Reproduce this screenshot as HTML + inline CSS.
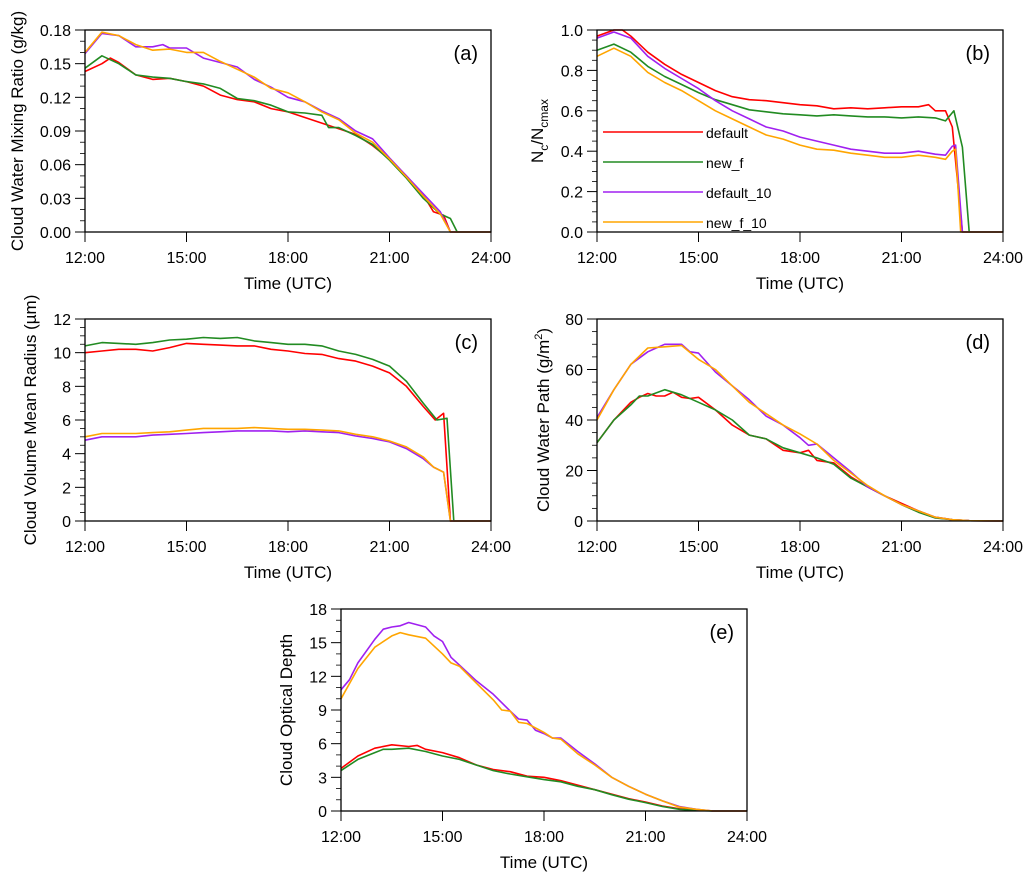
<!DOCTYPE html>
<html><head><meta charset="utf-8">
<style>
body{margin:0;background:#fff;}
svg{display:block;font-family:"Liberation Sans",sans-serif;}
</style></head>
<body>
<svg id="fig" width="1031" height="881" viewBox="0 0 1031 881" xmlns="http://www.w3.org/2000/svg"></svg>
<script>
// Panel (a) data
const aRedT=[12,12.5,12.75,13,13.5,14,14.5,15,15.5,16,16.5,17,17.5,18,18.5,19,19.5,20,20.5,21,21.5,22,22.3,22.6,22.8,24];
const aRedV=[0.143,0.150,0.155,0.151,0.140,0.136,0.137,0.134,0.130,0.122,0.118,0.116,0.110,0.107,0.102,0.097,0.092,0.087,0.077,0.065,0.050,0.033,0.018,0.015,0,0];
const aGreenT=[12,12.5,13,13.5,14,14.5,15,15.5,16,16.5,17,17.5,18,18.5,19,19.2,19.5,20,20.5,21,21.5,22,22.5,22.8,23,24];
const aGreenV=[0.146,0.157,0.150,0.140,0.138,0.137,0.134,0.132,0.128,0.119,0.117,0.113,0.107,0.106,0.104,0.093,0.093,0.086,0.078,0.064,0.048,0.030,0.016,0.012,0,0];
const aPurpleT=[12,12.5,13,13.5,14,14.3,14.5,15,15.5,16,16.5,17,17.5,18,18.5,19,19.5,20,20.5,21,21.5,22,22.5,22.8,24];
const aPurpleV=[0.159,0.177,0.175,0.165,0.165,0.167,0.164,0.164,0.155,0.151,0.147,0.136,0.129,0.120,0.116,0.108,0.101,0.090,0.083,0.066,0.050,0.034,0.018,0,0];
const aOrangeT=[12,12.5,13,13.5,14,14.5,15,15.5,16,16.5,17,17.5,18,18.5,19,19.5,20,20.5,21,21.5,22,22.5,22.8,24];
const aOrangeV=[0.160,0.178,0.175,0.167,0.162,0.163,0.160,0.160,0.152,0.145,0.138,0.128,0.124,0.116,0.107,0.100,0.088,0.080,0.065,0.049,0.032,0.016,0,0];
// Panel (b) data
const bRedT=[12,12.5,12.75,13,13.5,14,14.5,15,15.5,16,16.5,17,17.5,18,18.5,19,19.5,20,20.5,21,21.5,21.8,22,22.3,22.5,22.8,24];
const bRedV=[0.97,1.0,1.0,0.97,0.89,0.83,0.78,0.74,0.70,0.67,0.655,0.65,0.64,0.63,0.625,0.61,0.615,0.61,0.615,0.62,0.62,0.63,0.60,0.60,0.52,0,0];
const bGreenT=[12,12.5,13,13.5,14,14.5,15,15.5,16,16.5,17,17.5,18,18.5,19,19.5,20,20.5,21,21.5,22,22.3,22.55,22.8,23,24];
const bGreenV=[0.90,0.93,0.89,0.82,0.77,0.73,0.69,0.655,0.63,0.605,0.595,0.585,0.58,0.575,0.58,0.575,0.57,0.57,0.565,0.57,0.565,0.55,0.60,0.42,0,0];
const bPurpleT=[12,12.5,13,13.5,14,14.5,15,15.5,16,16.5,17,17.5,18,18.5,19,19.5,20,20.5,21,21.5,22,22.3,22.5,22.6,22.8,24];
const bPurpleV=[0.96,0.99,0.96,0.87,0.81,0.76,0.71,0.65,0.60,0.56,0.52,0.50,0.47,0.45,0.43,0.41,0.40,0.39,0.39,0.40,0.385,0.38,0.425,0.43,0,0];
const bOrangeT=[12,12.5,13,13.5,14,14.5,15,15.5,16,16.5,17,17.5,18,18.5,19,19.5,20,20.5,21,21.5,22,22.3,22.5,22.6,22.75,24];
const bOrangeV=[0.87,0.91,0.87,0.79,0.74,0.70,0.65,0.60,0.56,0.52,0.48,0.46,0.43,0.41,0.405,0.39,0.38,0.37,0.37,0.38,0.37,0.36,0.40,0.41,0,0];
// Panel (c) data
const cRedT=[12,12.5,13,13.5,14,14.5,15,15.5,16,16.5,17,17.5,18,18.5,19,19.5,20,20.5,21,21.5,22,22.35,22.6,22.8,24];
const cRedV=[10.0,10.1,10.2,10.2,10.1,10.3,10.55,10.5,10.45,10.4,10.4,10.2,10.1,9.95,9.9,9.65,9.5,9.2,8.8,8.0,6.8,6.0,6.4,0,0];
const cGreenT=[12,12.5,13,13.5,14,14.5,15,15.5,16,16.5,17,17.5,18,18.5,19,19.5,20,20.5,21,21.5,22,22.4,22.7,22.9,24];
const cGreenV=[10.4,10.6,10.55,10.5,10.6,10.75,10.8,10.9,10.85,10.9,10.7,10.6,10.5,10.5,10.4,10.1,9.9,9.6,9.2,8.3,7.0,6.0,6.1,0,0];
const cPurpleT=[12,12.5,13,13.5,14,14.5,15,15.5,16,16.5,17,17.5,18,18.5,19,19.5,20,20.5,21,21.5,22,22.3,22.6,22.8,24];
const cPurpleV=[4.8,5.0,5.0,5.0,5.1,5.15,5.2,5.25,5.3,5.35,5.35,5.35,5.3,5.35,5.3,5.25,5.05,4.9,4.7,4.3,3.7,3.2,2.9,0,0];
const cOrangeT=[12,12.5,13,13.5,14,14.5,15,15.5,16,16.5,17,17.5,18,18.5,19,19.5,20,20.5,21,21.5,22,22.3,22.6,22.8,24];
const cOrangeV=[5.0,5.2,5.2,5.2,5.25,5.3,5.4,5.5,5.5,5.5,5.55,5.5,5.45,5.45,5.4,5.35,5.15,5.0,4.75,4.4,3.8,3.2,2.9,0,0];
// Panel (d) data
const dRedT=[12,12.5,13,13.25,13.5,13.75,14,14.25,14.5,14.75,15,15.5,16,16.5,17,17.5,18,18.25,18.5,19,19.5,20,20.5,21,21.5,22,22.5,23,24];
const dRedV=[31,40,47,49,50.5,49.5,49.5,51,49,48.5,49,44,38,34,32.5,28,27,28,24,23,17.5,13.5,10,7,4,1.5,0.5,0.1,0];
const dGreenT=[12,12.5,13,13.25,13.5,14,14.5,15,15.5,16,16.5,17,17.5,18,18.5,19,19.5,20,20.5,21,21.5,22,22.5,23,24];
const dGreenV=[31,40,46,49.5,49.5,52,50,47,44,40,34,32.5,29,27,25,22.5,17,13.5,10,6.5,3.5,1.2,0.5,0.1,0];
const dPurpleT=[12,12.5,13,13.5,13.75,14,14.5,14.75,15,15.5,16,16.5,17,17.5,18,18.25,18.5,19,19.5,20,20.5,21,21.5,22,22.5,23,24];
const dPurpleV=[41,52,62,67,68.5,70,70,67,66.5,59,53.5,48,41.5,38,33,30,30.5,25,19.5,13.5,10,6.5,4,1.5,0.5,0.1,0];
const dOrangeT=[12,12.5,13,13.5,14,14.5,15,15.5,16,16.5,17,17.5,18,18.5,19,19.5,20,20.5,21,21.5,22,22.5,23,24];
const dOrangeV=[40,52,62,68.5,69,69.5,64,60,53.5,47,42.5,38,34.5,30.5,24,19,14,10,6.5,4,1.5,0.5,0.1,0];
// Panel (e) data
const eRedT=[12,12.5,13,13.5,14,14.25,14.5,15,15.5,16,16.5,17,17.5,18,18.5,19,19.5,20,20.5,21,21.5,22,22.5,23,24];
const eRedV=[3.8,4.9,5.6,5.9,5.75,5.85,5.5,5.2,4.75,4.1,3.7,3.5,3.1,3.0,2.7,2.3,1.9,1.5,1.1,0.8,0.45,0.2,0.1,0,0];
const eGreenT=[12,12.5,13,13.25,13.5,14,14.5,15,15.5,16,16.5,17,17.5,18,18.5,19,19.5,20,20.5,21,21.5,22,22.5,23,24];
const eGreenV=[3.6,4.6,5.2,5.5,5.5,5.6,5.3,4.9,4.6,4.1,3.6,3.3,3.05,2.8,2.6,2.2,1.9,1.45,1.05,0.75,0.4,0.15,0.05,0,0];
const ePurpleT=[12,12.25,12.5,13,13.25,13.5,13.75,14,14.5,14.75,15,15.25,15.5,16,16.5,17,17.25,17.5,17.75,18,18.25,18.5,19,19.5,20,20.5,21,21.5,22,22.5,23,24];
const ePurpleV=[10.8,11.7,13.2,15.3,16.2,16.4,16.5,16.8,16.4,15.6,15.1,13.7,13.0,11.6,10.4,8.9,8.2,8.1,7.2,6.9,6.5,6.5,5.3,4.2,3.0,2.2,1.5,0.9,0.4,0.15,0,0];
const eOrangeT=[12,12.5,13,13.5,13.75,14,14.5,15,15.25,15.5,16,16.5,16.75,17,17.25,17.5,18,18.25,18.5,19,19.5,20,20.5,21,21.5,22,22.5,23,24];
const eOrangeV=[10.0,12.7,14.6,15.6,15.9,15.7,15.4,14.0,13.2,12.9,11.4,9.9,9.0,8.9,7.9,7.8,7.0,6.5,6.4,5.1,4.1,3.0,2.2,1.5,0.9,0.35,0.15,0,0];

const xTickVals=[12,15,18,21,24];
const xTickLabels=["12:00","15:00","18:00","21:00","24:00"];
const legendLabels=["default","new_f","default_10","new_f_10"];
const COLORS={red:"#ff0000",green:"#228b22",purple:"#a020f0",orange:"#ffa500"};

const NS="http://www.w3.org/2000/svg";
const svg=document.getElementById('fig');
function mk(tag,attrs,parent){const e=document.createElementNS(NS,tag);for(const k in attrs)e.setAttribute(k,attrs[k]);(parent||svg).appendChild(e);return e;}

function panel(cfg){
  const g=mk('g',{});
  
  
  const {L,R,T,B,ymin,ymax}=cfg;
  const xs=t=>L+(t-12)/12*(R-L);
  const ys=v=>B-(v-ymin)/(ymax-ymin)*(B-T);
  cfg.series.forEach(s=>{
    const d=s.t.map((t,i)=>(i?'L':'M')+xs(t).toFixed(1)+','+ys(s.v[i]).toFixed(1)).join('');
    const p=mk('path',{d:d,fill:'none',stroke:COLORS[s.c],'stroke-width':1.6,'stroke-linejoin':'round'},g);
    
    
  });
  const f=mk('rect',{x:L,y:T,width:R-L,height:B-T,fill:'none',stroke:'#000','stroke-width':1.3},g);
  
  
  const nMaj=Math.round((ymax-ymin)/cfg.ystep);
  for(let i=0;i<=nMaj;i++){
    const v=ymin+i*cfg.ystep,y=ys(v);
    mk('line',{x1:L-10,y1:y,x2:L,y2:y,stroke:'#000','stroke-width':1},g);
    const tx=mk('text',{x:L-14,y:y+6,'font-size':16,'text-anchor':'end'},g);
    tx.textContent=v.toFixed(cfg.dec);
    
    
    if(i<nMaj){for(let m=1;m<cfg.minor;m++){const ym=ys(v+m*cfg.ystep/cfg.minor);mk('line',{x1:L-5,y1:ym,x2:L,y2:ym,stroke:'#000','stroke-width':0.8},g);}}
  }
  xTickVals.forEach((t,i)=>{
    const x=xs(t);
    mk('line',{x1:x,y1:B,x2:x,y2:B+10,stroke:'#000','stroke-width':1},g);
    const tx=mk('text',{x:x,y:B+31,'font-size':16,'text-anchor':'middle'},g);
    tx.textContent=xTickLabels[i];
    
    
  });
  const xt=mk('text',{x:(L+R)/2,y:B+57,'font-size':17,'text-anchor':'middle'},g);
  xt.textContent='Time (UTC)';
  
  
  const yt=mk('text',{x:0,y:0,'font-size':17,'text-anchor':'middle',transform:`translate(${cfg.ytx},${(T+B)/2}) rotate(-90)`},g);
  yt.innerHTML=cfg.ytitle;
  
  
  const pl=mk('text',{x:R-13,y:T+30,'font-size':20,'text-anchor':'end'},g);
  pl.textContent='('+cfg.id+')';
  
  
  return {g,xs,ys};
}

panel({id:'a',L:85,R:491,T:30,B:232,ymin:0,ymax:0.18,ystep:0.03,minor:3,dec:2,ytx:23,ytitle:'Cloud Water Mixing Ratio (g/kg)',
 series:[{t:aRedT,v:aRedV,c:'red'},{t:aGreenT,v:aGreenV,c:'green'},{t:aPurpleT,v:aPurpleV,c:'purple'},{t:aOrangeT,v:aOrangeV,c:'orange'}]});
panel({id:'b',L:597,R:1003,T:30,B:232,ymin:0,ymax:1,ystep:0.2,minor:4,dec:1,ytx:543,ytitle:'N<tspan font-size="12" dy="5">c</tspan><tspan dy="-5">/N</tspan><tspan font-size="12" dy="5">cmax</tspan>',
 series:[{t:bRedT,v:bRedV,c:'red'},{t:bGreenT,v:bGreenV,c:'green'},{t:bPurpleT,v:bPurpleV,c:'purple'},{t:bOrangeT,v:bOrangeV,c:'orange'}]});
panel({id:'c',L:85,R:491,T:319,B:521,ymin:0,ymax:12,ystep:2,minor:4,dec:0,ytx:36,ytitle:'Cloud Volume Mean Radius (µm)',
 series:[{t:cRedT,v:cRedV,c:'red'},{t:cGreenT,v:cGreenV,c:'green'},{t:cPurpleT,v:cPurpleV,c:'purple'},{t:cOrangeT,v:cOrangeV,c:'orange'}]});
panel({id:'d',L:597,R:1003,T:319,B:521,ymin:0,ymax:80,ystep:20,minor:4,dec:0,ytx:549,ytitle:'Cloud Water Path (g/m<tspan font-size="11" dy="-7">2</tspan><tspan dy="7">)</tspan>',
 series:[{t:dRedT,v:dRedV,c:'red'},{t:dGreenT,v:dGreenV,c:'green'},{t:dPurpleT,v:dPurpleV,c:'purple'},{t:dOrangeT,v:dOrangeV,c:'orange'}]});
panel({id:'e',L:341,R:747,T:609,B:811,ymin:0,ymax:18,ystep:3,minor:3,dec:0,ytx:292,ytitle:'Cloud Optical Depth',
 series:[{t:eRedT,v:eRedV,c:'red'},{t:eGreenT,v:eGreenV,c:'green'},{t:ePurpleT,v:ePurpleV,c:'purple'},{t:eOrangeT,v:eOrangeV,c:'orange'}]});

const lg=mk('g',{});


const lcols=['red','green','purple','orange'];
legendLabels.forEach((lab,i)=>{
  const y=132+i*30;
  const ln=mk('line',{x1:603,y1:y,x2:703,y2:y,stroke:COLORS[lcols[i]],'stroke-width':1.6},lg);
  
  
  const t=mk('text',{x:706,y:y+6,'font-size':14},lg);
  t.textContent=lab;
  
  
});
</script>
</body></html>
